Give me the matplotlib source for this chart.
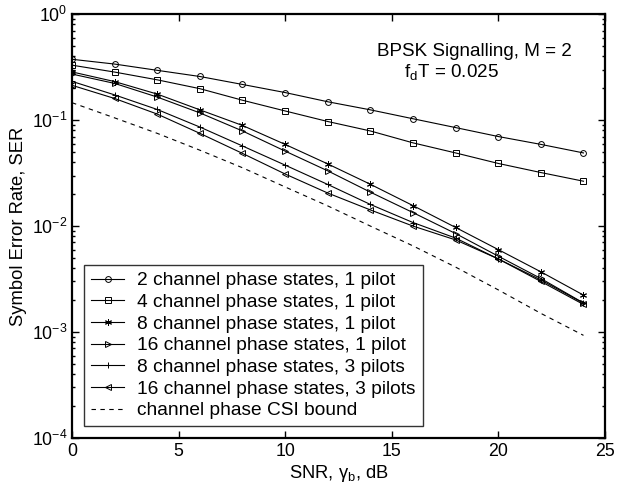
import numpy as np
import matplotlib
matplotlib.use("Agg")
import matplotlib.pyplot as plt
from matplotlib.ticker import LogLocator, NullFormatter

plt.rcParams["font.family"] = ["Liberation Sans", "DejaVu Sans"]
plt.rcParams["mathtext.fontset"] = "custom"
plt.rcParams["mathtext.rm"] = "Liberation Sans"
plt.rcParams["mathtext.it"] = "Liberation Sans:italic"
plt.rcParams["mathtext.bf"] = "Liberation Sans:bold"

# SNR grid (dB) and symbol error rates
snr_db = [0, 2, 4, 6, 8, 10, 12, 14, 16, 18, 20, 22, 24]

ser_2st_1p = [0.375, 0.338, 0.295, 0.258, 0.217, 0.182, 0.149, 0.125, 0.103, 0.085, 0.070, 0.059, 0.049]
ser_4st_1p = [0.33, 0.284, 0.24, 0.198, 0.154, 0.122, 0.097, 0.079, 0.061, 0.049, 0.039, 0.032, 0.0265]
ser_8st_1p = [0.285, 0.231, 0.176, 0.125, 0.089, 0.059, 0.0386, 0.0248, 0.0156, 0.0097, 0.006, 0.0037, 0.00223]
ser_16st_1p = [0.272, 0.222, 0.165, 0.117, 0.079, 0.051, 0.0332, 0.0209, 0.0134, 0.0085, 0.0052, 0.0032, 0.00188]
ser_8st_3p = [0.232, 0.173, 0.126, 0.086, 0.057, 0.0376, 0.0247, 0.016, 0.0108, 0.0077, 0.0049, 0.0031, 0.00187]
ser_16st_3p = [0.213, 0.16, 0.114, 0.075, 0.0485, 0.031, 0.0205, 0.0142, 0.0100, 0.0074, 0.0049, 0.0030, 0.00182]
ser_csi_bound = [0.146, 0.105, 0.075, 0.052, 0.0355, 0.0234, 0.0155, 0.0100, 0.0065, 0.0041, 0.0025, 0.0015, 0.00093]

labels = [
    "2 channel phase states, 1 pilot",
    "4 channel phase states, 1 pilot",
    "8 channel phase states, 1 pilot",
    "16 channel phase states, 1 pilot",
    "8 channel phase states, 3 pilots",
    "16 channel phase states, 3 pilots",
    "channel phase CSI bound",
]

fig = plt.figure(figsize=(6.4, 4.88), dpi=100)
ax = fig.add_axes([0.1125, 0.1025, 0.8325, 0.8685])

mk = dict(color="black", linewidth=0.8, markersize=4.2, markerfacecolor="none",
          markeredgecolor="black", markeredgewidth=0.7)
ax.semilogy(snr_db, ser_2st_1p, marker="o", label=labels[0], **mk)
ax.semilogy(snr_db, ser_4st_1p, marker="s", label=labels[1], **{**mk, "markersize": 3.8})
ax.semilogy(snr_db, ser_8st_1p, marker=(6, 2, 0), label=labels[2], **{**mk, "markersize": 5})
ax.semilogy(snr_db, ser_16st_1p, marker=">", label=labels[3], **mk)
ax.semilogy(snr_db, ser_8st_3p, marker="+", label=labels[4], **{**mk, "markersize": 5})
ax.semilogy(snr_db, ser_16st_3p, marker="<", label=labels[5], **mk)
ax.semilogy(snr_db, ser_csi_bound, color="black", linewidth=0.8,
            linestyle=(0, (4, 4)), label=labels[6])

ax.set_xlim(0, 25)
ax.set_ylim(1e-4, 1)
ax.set_xticks([0, 5, 10, 15, 20, 25])
ax.yaxis.set_major_locator(LogLocator(base=10, numticks=10))
ax.yaxis.set_minor_locator(LogLocator(base=10, subs=np.arange(2, 10), numticks=10))
ax.yaxis.set_minor_formatter(NullFormatter())

ax.tick_params(which="both", direction="in", top=True, right=True, labelsize=12.8, width=1.0)
ax.tick_params(which="major", length=5)
ax.tick_params(which="minor", length=2.5)
for s in ax.spines.values():
    s.set_linewidth(1.6)

ax.set_xlabel(r"SNR, $\mathrm{\gamma}_\mathrm{b}$, dB", fontsize=13.2, labelpad=2)
ax.set_ylabel("Symbol Error Rate, SER", fontsize=13.2, labelpad=3)

ax.text(14.3, 0.44, "BPSK Signalling, M = 2", fontsize=13.6, ha="left", va="center")
ax.text(15.6, 0.284, r"f$_\mathrm{d}$T = 0.025", fontsize=13.6, ha="left", va="center")

leg = ax.legend(loc="lower left", bbox_to_anchor=(0.0225, 0.028), fontsize=13.8,
                frameon=True, fancybox=False, edgecolor="black", borderaxespad=0,
                handlelength=1.75, handletextpad=0.68, labelspacing=0.22, borderpad=0.36)
leg.get_frame().set_linewidth(1.0)

fig.savefig("out.png", dpi=100)
